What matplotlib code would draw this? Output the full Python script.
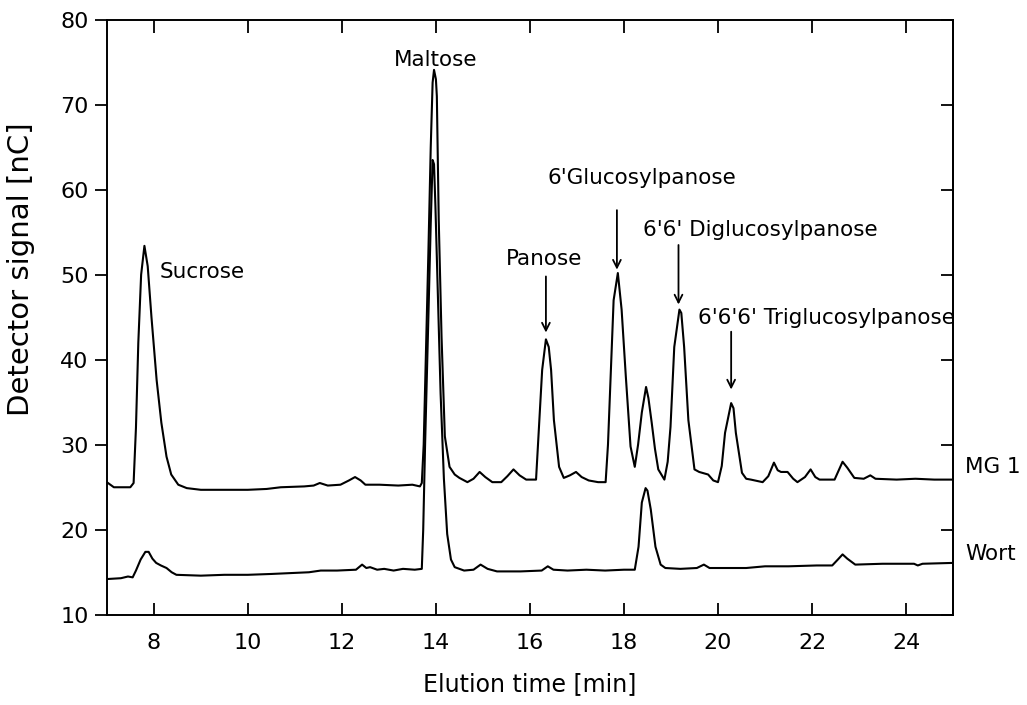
# HPAEC-PAD chromatograms of MG 1 and wort with the labelled oligosaccharide peaks

import matplotlib.pyplot as plt

# ====== MG 1 trace (elution time in min, detector signal in nC) ======
mg1_time = [
    7.0, 7.15, 7.35, 7.5, 7.57, 7.62, 7.67, 7.73, 7.80, 7.87, 7.95, 8.06, 8.16, 8.27,
    8.37, 8.52, 8.7, 9.0, 9.5, 10.0, 10.4, 10.7, 11.2, 11.4, 11.53, 11.7, 11.97, 12.15,
    12.28, 12.4, 12.5, 12.8, 13.2, 13.5, 13.66, 13.70, 13.74, 13.77, 13.84, 13.89, 13.93,
    13.96, 14.00, 14.02, 14.06, 14.12, 14.19, 14.29, 14.4, 14.5, 14.67, 14.8, 14.93,
    15.05, 15.2, 15.39, 15.52, 15.65, 15.78, 15.92, 16.13, 16.2, 16.26, 16.34, 16.40,
    16.45, 16.51, 16.62, 16.72, 16.85, 16.98, 17.1, 17.25, 17.45, 17.61, 17.66, 17.72,
    17.78, 17.87, 17.95, 18.04, 18.14, 18.23, 18.30, 18.38, 18.47, 18.52, 18.59, 18.66,
    18.73, 18.86, 18.93, 18.99, 19.07, 19.18, 19.22, 19.28, 19.37, 19.5, 19.6, 19.79,
    19.9, 20.0, 20.08, 20.15, 20.28, 20.33, 20.38, 20.51, 20.6, 20.7, 20.95, 21.07,
    21.19, 21.27, 21.34, 21.48, 21.6, 21.69, 21.85, 21.97, 22.07, 22.16, 22.48, 22.57,
    22.65, 22.75, 22.9, 23.1, 23.24, 23.35, 23.8, 24.2, 24.6, 25.0,
]
mg1_signal = [
    25.6, 25.0, 25.0, 25.0, 25.5, 32.0, 42.0, 50.0, 53.4, 51.0, 45.0, 37.6, 32.6, 28.6,
    26.5, 25.3, 24.9, 24.7, 24.7, 24.7, 24.8, 25.0, 25.1, 25.2, 25.5, 25.2, 25.3, 25.8,
    26.2, 25.8, 25.3, 25.3, 25.2, 25.3, 25.1, 25.5, 30.0, 36.8, 52.6, 65.0, 72.6,
    74.1, 73.0, 71.0, 56.5, 42.7, 31.0, 27.4, 26.5, 26.1, 25.6, 26.0, 26.8,
    26.2, 25.6, 25.6, 26.3, 27.1, 26.4, 25.9, 25.9, 32.9, 38.8, 42.4, 41.5,
    38.8, 32.9, 27.4, 26.1, 26.4, 26.8, 26.2, 25.8, 25.6, 25.6, 30.0, 38.4,
    47.0, 50.2, 45.9, 38.0, 29.8, 27.4, 30.0, 33.8, 36.8, 35.5, 32.6, 29.5,
    27.1, 25.9, 28.0, 32.1, 41.5, 45.9, 45.5, 41.5, 32.9, 27.1, 26.8, 26.5,
    25.8, 25.6, 27.5, 31.4, 34.9, 34.3, 31.4, 26.7, 26.0, 25.9, 25.6, 26.3,
    27.9, 27.0, 26.8, 26.8, 26.0, 25.6, 26.2, 27.1, 26.2, 25.9, 25.9, 27.0,
    28.0, 27.3, 26.1, 26.0, 26.4, 26.0, 25.9, 26.0, 25.9, 25.9,
]

# ====== Wort trace ======
wort_time = [
    7.0, 7.3, 7.45, 7.55, 7.62, 7.72, 7.82, 7.89, 7.97, 8.05, 8.15, 8.27, 8.38, 8.48,
    9.0, 9.5, 10.0, 10.5, 10.9, 11.3, 11.55, 11.9, 12.3, 12.43, 12.52, 12.6, 12.75,
    12.9, 13.1, 13.3, 13.55, 13.70, 13.73, 13.77, 13.84, 13.89, 13.93, 13.96, 13.99,
    14.04, 14.1, 14.17, 14.24, 14.32, 14.4, 14.6, 14.8, 14.95, 15.1, 15.3, 15.8, 16.25,
    16.38, 16.5, 16.8, 17.2, 17.6, 18.0, 18.23, 18.31, 18.38, 18.46, 18.5, 18.57, 18.67,
    18.78, 18.88, 19.2, 19.55, 19.7, 19.82, 20.2, 20.6, 21.0, 21.5, 22.1, 22.43, 22.55,
    22.65, 22.75, 22.92, 23.5, 24.17, 24.25, 24.35, 25.0,
]
wort_signal = [
    14.2, 14.3, 14.5, 14.4, 15.2, 16.5, 17.4, 17.4, 16.6, 16.1, 15.8, 15.5, 15.0, 14.7,
    14.6, 14.7, 14.7, 14.8, 14.9, 15.0, 15.2, 15.2, 15.3, 15.9, 15.5, 15.6, 15.3,
    15.4, 15.2, 15.4, 15.3, 15.4, 20.0, 30.0, 45.0, 56.0, 63.5, 63.0, 58.0,
    48.0, 36.0, 26.0, 19.5, 16.5, 15.6, 15.2, 15.3, 15.9, 15.4, 15.1, 15.1, 15.2,
    15.7, 15.3, 15.2, 15.3, 15.2, 15.3, 15.3, 18.0, 23.2, 24.9, 24.6, 22.4, 18.0,
    15.9, 15.5, 15.4, 15.5, 15.9, 15.5, 15.5, 15.5, 15.7, 15.7, 15.8, 15.8, 16.5,
    17.1, 16.6, 15.9, 16.0, 16.0, 15.8, 16.0, 16.1,
]

# ====== Peak labels: (text, label x, label y, arrow x, arrow tail y, arrow head y) ======
arrow_labels = ["Panose", "6'Glucosylpanose", "6'6' Diglucosylpanose", "6'6'6' Triglucosylpanose"]
label_x = [16.30, 18.38, 20.91, 22.30]
label_y = [51.8, 61.4, 55.3, 44.9]
arrow_x = [16.34, 17.85, 19.16, 20.28]
arrow_tail = [49.8, 57.6, 53.5, 43.3]
arrow_head = [43.2, 50.6, 46.5, 36.5]

# ====== Figure ======
fig = plt.figure(figsize=(10.27, 7.05), dpi=100)
ax = fig.add_axes([0.104, 0.128, 0.824, 0.844])

ax.plot(mg1_time, mg1_signal, color="black", linewidth=1.5)
ax.plot(wort_time, wort_signal, color="black", linewidth=1.5)

ax.set_xlim(7, 25)
ax.set_ylim(10, 80)
ax.set_xticks(range(8, 25, 2))
ax.set_yticks(range(10, 81, 10))

# ticks: outward on the left, inward on the other three sides
ax.tick_params(axis="x", direction="in", top=True, length=9, width=1.3, labelsize=16, pad=13)
ax.tick_params(axis="y", which="both", left=True, right=False, direction="out",
               length=9, width=1.3, labelsize=16, pad=4)
ax_r = ax.secondary_yaxis("right")
ax_r.set_yticks(range(10, 81, 10))
ax_r.tick_params(direction="in", length=9, width=1.3, labelright=False)
for side in ax.spines.values():
    side.set_linewidth(1.4)
ax_r.spines["right"].set_linewidth(1.4)

ax.set_xlabel("Elution time [min]", fontsize=17, labelpad=14)
ax.set_ylabel("Detector signal [nC]", fontsize=21)
ax.yaxis.set_label_coords(-0.085, 0.58)

# Peak names
ax.text(8.12, 50.35, "Sucrose", fontsize=15.5, ha="left", va="center")
ax.text(14.0, 75.3, "Maltose", fontsize=15.5, ha="center", va="center")
for name, lx, ly, axx, y0, y1 in zip(arrow_labels, label_x, label_y, arrow_x, arrow_tail, arrow_head):
    ax.text(lx, ly, name, fontsize=15.5, ha="center", va="center", clip_on=False)
    ax.annotate("", xy=(axx, y1), xytext=(axx, y0),
                arrowprops=dict(arrowstyle="->", color="black", lw=1.3,
                                mutation_scale=14, shrinkA=0, shrinkB=0))

# Trace names beside the right axis
ax.text(25.25, 27.4, "MG 1", fontsize=15.5, ha="left", va="center", clip_on=False)
ax.text(25.25, 17.1, "Wort", fontsize=15.5, ha="left", va="center", clip_on=False)

fig.savefig("out.png", dpi=100)
